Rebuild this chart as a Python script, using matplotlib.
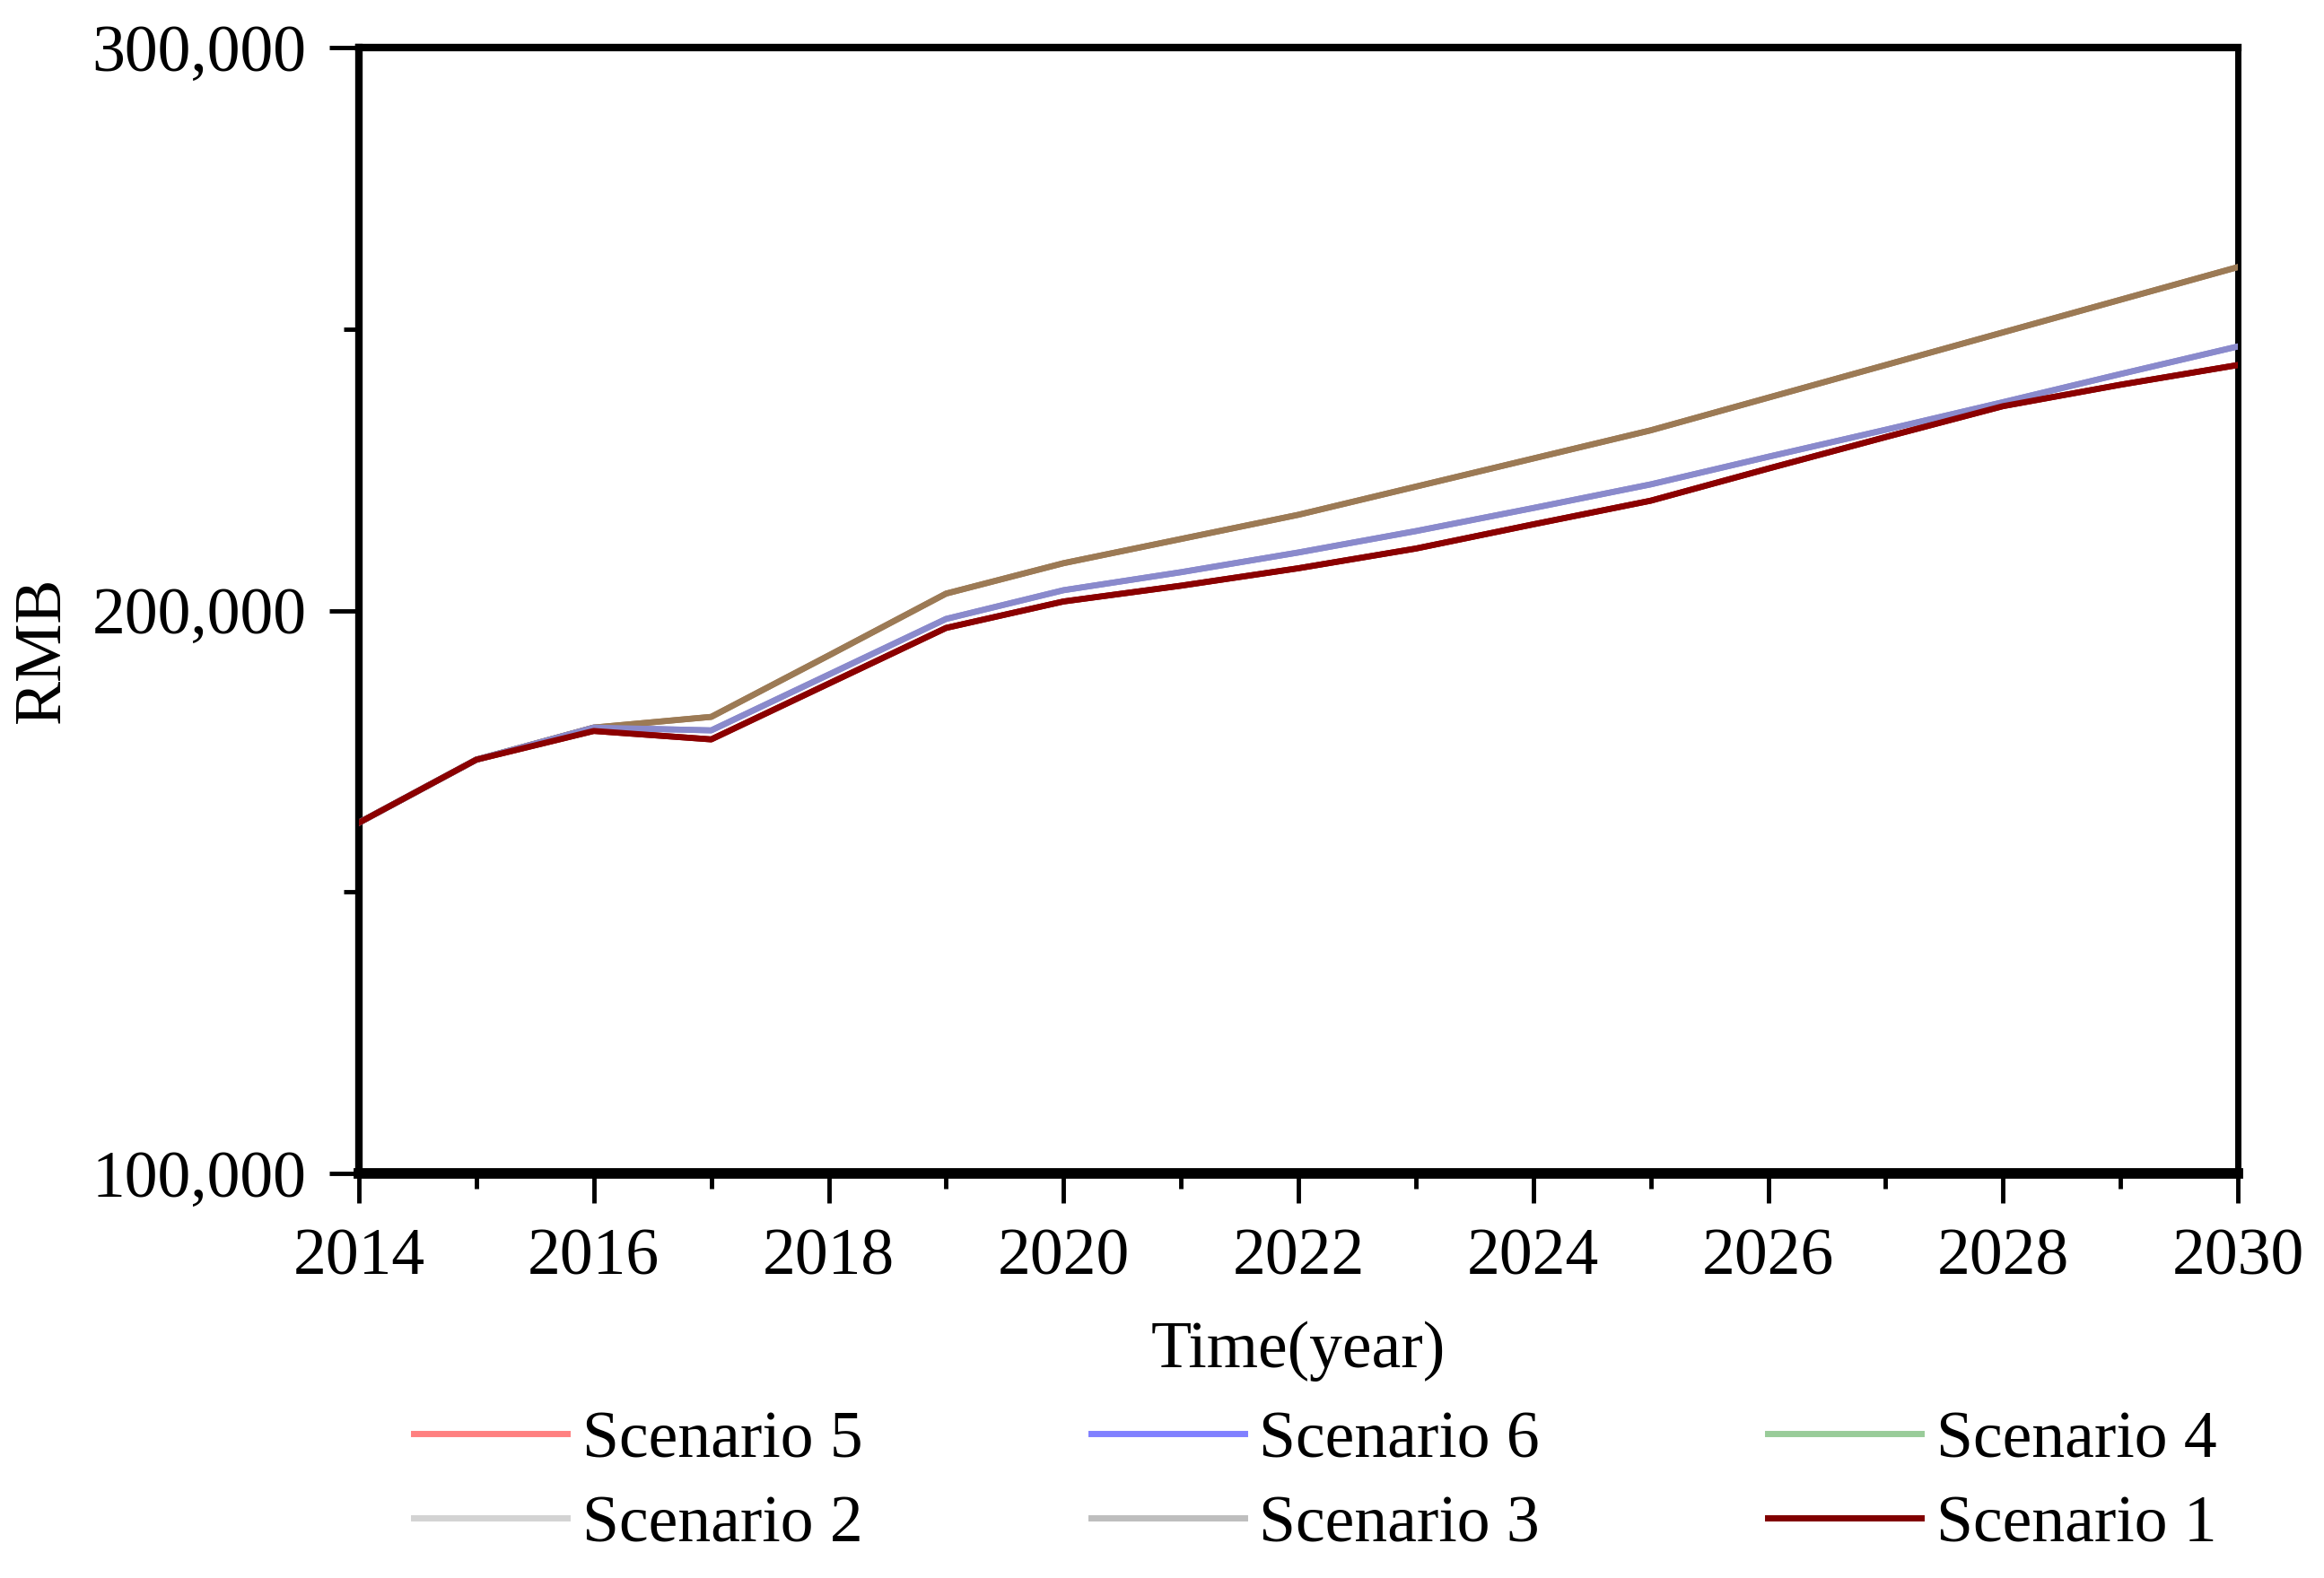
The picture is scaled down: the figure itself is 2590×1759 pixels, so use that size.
import matplotlib
matplotlib.use("Agg")
import matplotlib.pyplot as plt
from matplotlib.lines import Line2D
from matplotlib.ticker import FuncFormatter, MultipleLocator

plt.rcParams['font.family'] = ['Liberation Serif', 'DejaVu Serif']

years = list(range(2014, 2031))

# upper (brown, overlapping) group
upper = [162300, 173500, 179200, 181100, 192000, 203000, 208400, 212700, 217000,
         222000, 227000, 232000, 237800, 243600, 249400, 255200, 261000]
# middle (blue) group
middle = [162300, 173500, 179200, 178700, 188600, 198500, 203600, 206800, 210300,
          214100, 218200, 222400, 227300, 232100, 237000, 242000, 246900]
# lower (dark red) group
lower = [162300, 173500, 178600, 177100, 187000, 196900, 201600, 204400, 207500,
         211000, 215300, 219500, 225200, 230800, 236300, 240100, 243600]

scenario_names = ["Scenario 5", "Scenario 6", "Scenario 4", "Scenario 2", "Scenario 3", "Scenario 1"]
scenario_data = {
    "Scenario 2": middle,
    "Scenario 3": lower,
    "Scenario 4": upper,
    "Scenario 5": upper,
    "Scenario 6": middle,
    "Scenario 1": lower,
}
legend_colors = {
    "Scenario 5": "#FF8080",
    "Scenario 6": "#8080FF",
    "Scenario 4": "#99CC99",
    "Scenario 2": "#D3D3D3",
    "Scenario 3": "#BEBEBE",
    "Scenario 1": "#800000",
}
# colours as they appear where the lines overlap
drawn_colors = {
    "Scenario 2": "#8A8ACC",
    "Scenario 3": "#8B0000",
    "Scenario 4": "#9C7A55",
    "Scenario 5": "#9C7A55",
    "Scenario 6": "#8A8ACC",
    "Scenario 1": "#8B0000",
}

W, H = 2590, 1759
fig = plt.figure(figsize=(W / 100, H / 100), dpi=100)
ax = fig.add_axes([400 / W, 1 - 1308 / H, (2494 - 400) / W, (1308 - 53) / H])

for name in ["Scenario 2", "Scenario 3", "Scenario 4", "Scenario 5", "Scenario 6", "Scenario 1"]:
    ax.plot(years, scenario_data[name], color=drawn_colors[name], lw=4.8,
            solid_joinstyle='round', zorder=3)

ax.set_xlim(2014, 2030)
ax.set_ylim(100000, 300000)
ax.xaxis.set_major_locator(MultipleLocator(2))
ax.xaxis.set_minor_locator(MultipleLocator(1))
ax.yaxis.set_major_locator(MultipleLocator(100000))
ax.yaxis.set_minor_locator(MultipleLocator(50000))
ax.yaxis.set_major_formatter(FuncFormatter(lambda v, p: f"{int(v):,}"))

fs = 53
ax.tick_params(axis='both', which='major', direction='out', length=24, width=3.5,
               labelsize=fs, colors='black')
ax.tick_params(axis='both', which='minor', direction='out', length=12, width=3.5)
ax.tick_params(axis='y', which='major', pad=18)
ax.tick_params(axis='x', which='major', pad=20)

ax.spines['left'].set_linewidth(6)
ax.spines['top'].set_linewidth(6)
ax.spines['bottom'].set_linewidth(8.5)
ax.spines['right'].set_linewidth(5)

ax.set_xlabel("Time(year)", fontsize=fs)
ax.set_ylabel("RMB", fontsize=fs)
ax.xaxis.set_label_coords(0.5, -0.131)
ax.yaxis.set_label_coords(-0.168, 0.465)
ax.yaxis.label.set_va('center')

handles = [Line2D([0], [0], color=legend_colors[n], lw=5) for n in scenario_names]
# column-wise order for ncol=3
order = [0, 3, 1, 4, 2, 5]
fig.legend([handles[i] for i in order], [scenario_names[i] for i in order],
           ncol=3, loc='center', bbox_to_anchor=(0.566, 0.060), frameon=False,
           fontsize=fs, handlelength=2.32, handletextpad=0.23, columnspacing=3.45,
           labelspacing=0.36, borderpad=0)

fig.savefig("out.png", dpi=100, facecolor='white')
